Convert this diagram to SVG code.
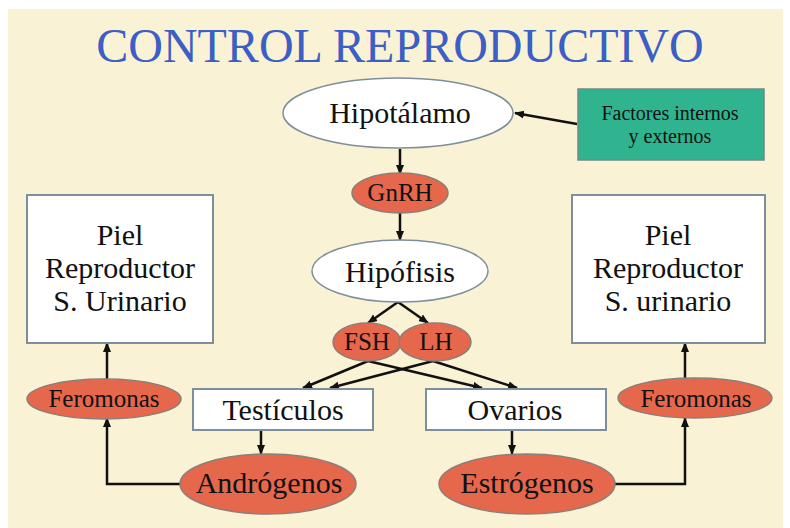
<svg xmlns="http://www.w3.org/2000/svg" width="790" height="528" viewBox="0 0 790 528">
<defs>
<marker id="ah" viewBox="0 0 10 10" refX="9" refY="5" markerWidth="4" markerHeight="4" orient="auto" markerUnits="strokeWidth">
<path d="M0,1 L10,5 L0,9 z" fill="#111"/>
</marker>
<style>
.t{fill:#111;text-anchor:middle}
.wbox{fill:#fff;stroke:#7d8f9c;stroke-width:2}
.wel{fill:#fff;stroke:#7d8f9c;stroke-width:1.5}
.rel{fill:#e5674c;stroke:#8b7f7a;stroke-width:1.5}
.c{fill:none;stroke:#111;stroke-width:2.5;marker-end:url(#ah)}
</style>
</defs>
<rect x="0" y="0" width="790" height="528" fill="#fff"/>
<rect x="8" y="9" width="775" height="519" fill="#faf2d4"/>
<g font-family="'Liberation Serif', 'Times New Roman', serif">
<text class="t" x="400" y="62" font-size="48" style="fill:#3b5fc4">CONTROL REPRODUCTIVO</text>

<g id="connectors">
<path class="c" d="M577,124 L515,113"/>
<path class="c" d="M400,149 L400,174"/>
<path class="c" d="M400,213 L400,240"/>
<path class="c" d="M398,302 L368,323"/>
<path class="c" d="M398,302 L428,323"/>
<path class="c" d="M368,361 L303,388"/>
<path class="c" d="M368,361 L482,388"/>
<path class="c" d="M433,361 L330,388"/>
<path class="c" d="M433,361 L517,388"/>
<path class="c" d="M261,430 L261,454"/>
<path class="c" d="M512,430 L512,454"/>
<path class="c" d="M180,484 L107,484 L107,418"/>
<path class="c" d="M107,379 L107,343"/>
<path class="c" d="M615,484 L685,484 L685,418"/>
<path class="c" d="M685,379 L685,343"/>
</g>

<g id="hipotalamo">
<ellipse class="wel" cx="398" cy="113" rx="115" ry="35"/>
<text class="t" x="400" y="123" font-size="30">Hipotálamo</text>
</g>
<g id="factores">
<rect x="578" y="89" width="186" height="71" fill="#2fb48f" stroke="#6f8a86" stroke-width="1.5"/>
<text class="t" x="670" y="120" font-size="20">Factores internos</text>
<text class="t" x="670" y="143" font-size="20">y externos</text>
</g>
<g id="gnrh">
<ellipse class="rel" cx="400" cy="193" rx="48" ry="20"/>
<text class="t" x="400" y="201" font-size="25">GnRH</text>
</g>
<g id="hipofisis">
<ellipse class="wel" cx="400" cy="271" rx="88" ry="31"/>
<text class="t" x="400" y="282" font-size="30">Hipófisis</text>
</g>
<g id="fsh">
<ellipse class="rel" cx="367" cy="342" rx="34" ry="19"/>
<text class="t" x="367" y="350" font-size="25">FSH</text>
</g>
<g id="lh">
<ellipse class="rel" cx="435" cy="342" rx="36" ry="19"/>
<text class="t" x="436" y="350" font-size="25">LH</text>
</g>
<g id="testiculos">
<rect class="wbox" x="193" y="389" width="180" height="41"/>
<text class="t" x="283" y="420" font-size="30">Testículos</text>
</g>
<g id="ovarios">
<rect class="wbox" x="426" y="389" width="180" height="41"/>
<text class="t" x="515" y="420" font-size="30">Ovarios</text>
</g>
<g id="androgenos">
<ellipse class="rel" cx="268" cy="484" rx="88" ry="30"/>
<text class="t" x="269" y="493" font-size="30">Andrógenos</text>
</g>
<g id="estrogenos">
<ellipse class="rel" cx="527" cy="484" rx="88" ry="30"/>
<text class="t" x="527" y="493" font-size="30">Estrógenos</text>
</g>
<g id="feromonas-izq">
<ellipse class="rel" cx="104" cy="399" rx="77" ry="20"/>
<text class="t" x="104" y="407" font-size="25">Feromonas</text>
</g>
<g id="feromonas-der">
<ellipse class="rel" cx="695" cy="398" rx="77" ry="20"/>
<text class="t" x="696" y="407" font-size="25">Feromonas</text>
</g>
<g id="piel-izq">
<rect class="wbox" x="27" y="195" width="186" height="148"/>
<text class="t" x="120" y="245" font-size="30">Piel</text>
<text class="t" x="120" y="278" font-size="30">Reproductor</text>
<text class="t" x="120" y="311" font-size="30">S. Urinario</text>
</g>
<g id="piel-der">
<rect class="wbox" x="572" y="195" width="193" height="148"/>
<text class="t" x="668" y="245" font-size="30">Piel</text>
<text class="t" x="668" y="278" font-size="30">Reproductor</text>
<text class="t" x="668" y="311" font-size="30">S. urinario</text>
</g>
</g>
</svg>
